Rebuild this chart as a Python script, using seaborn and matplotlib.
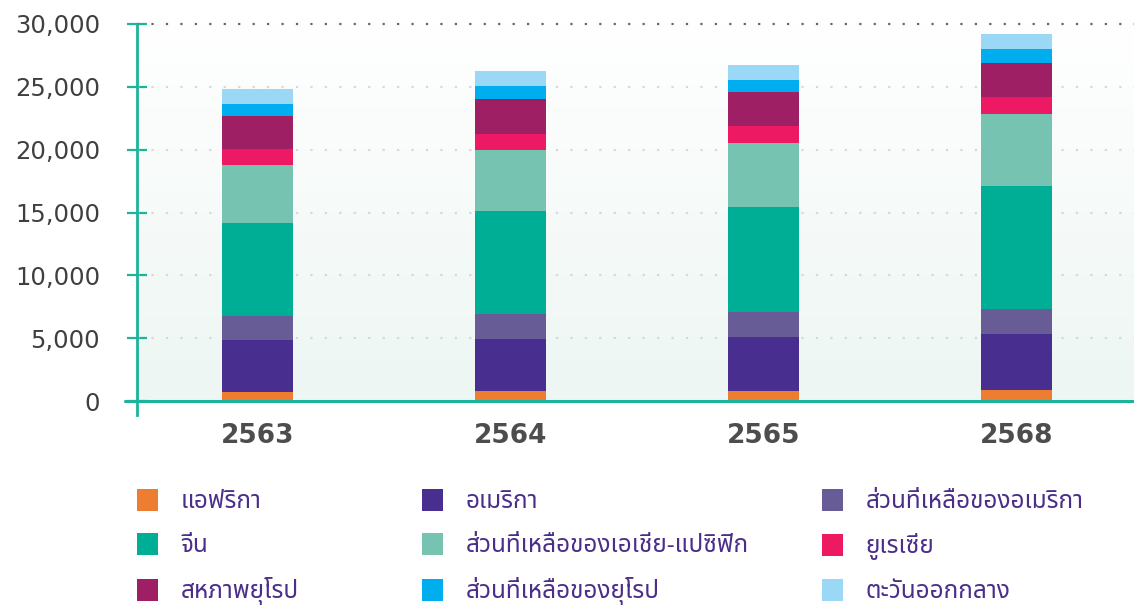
import numpy as np
import matplotlib.pyplot as plt
import seaborn as sns
from matplotlib import font_manager
from matplotlib.ft2font import FT2Font
from matplotlib.patches import Patch
from matplotlib.colors import LinearSegmentedColormap

years = ["2563", "2564", "2565", "2568"]
regions = ["แอฟริกา", "อเมริกา", "ส่วนที่เหลือของอเมริกา",
           "จีน", "ส่วนที่เหลือของเอเชีย-แปซิฟิก", "ยูเรเซีย",
           "สหภาพยุโรป", "ส่วนที่เหลือของยุโรป", "ตะวันออกกลาง"]

africa = [720, 800, 800, 880]
america = [4140, 4140, 4300, 4450]
rest_america = [1930, 2010, 1990, 1990]
china = [7380, 8170, 8360, 9790]
rest_asia_pacific = [4620, 4850, 5090, 5730]
eurasia = [1270, 1300, 1350, 1350]
eu = [2650, 2760, 2710, 2710]
rest_europe = [930, 1030, 960, 1110]
middle_east = [1190, 1190, 1190, 1190]

colors = ["#ED7D31", "#482E8E", "#675C96", "#00AE96", "#76C3B1",
          "#ED1A63", "#9E1F63", "#00AEEF", "#9BD8F6"]

teal = "#1BB39A"


def thai_font():
    found = []
    for f in font_manager.fontManager.ttflist:
        try:
            if ord("ก") in FT2Font(f.fname).get_charmap():
                found.append(f.name)
        except Exception:
            pass
    for pref in ["Noto Sans Thai", "Noto Sans Thai UI"]:
        if pref in found:
            return pref
    found = [n for n in found if "Looped" not in n] or found
    return found[0] if found else "DejaVu Sans"


sns.set_style("white")
thai = thai_font()
plt.rcParams["font.family"] = ["DejaVu Sans"]

series = [africa, america, rest_america, china, rest_asia_pacific,
          eurasia, eu, rest_europe, middle_east]
cum = np.cumsum(np.array(series), axis=0)

fig = plt.figure(figsize=(11.34, 6.07), dpi=100)
ax = fig.add_axes([137 / 1134, 1 - 415 / 607, 1 - 137 / 1134, (415 - 24) / 607])

# stacked bars: draw cumulative totals from top layer down
for i in range(len(series) - 1, -1, -1):
    sns.barplot(x=years, y=cum[i], color=colors[i], width=0.28,
                saturation=1, linewidth=0, errorbar=None, ax=ax, zorder=3)

xlo, xhi = -0.476, 3.464

# soft background gradient, white at top to mint at the base
cmap = LinearSegmentedColormap.from_list("bg", ["#ffffff", "#edf6f3"])
grad = np.linspace(0, 1, 256).reshape(-1, 1)
ax.imshow(grad, cmap=cmap, aspect="auto", extent=[xlo, xhi, 0, 30000],
          origin="upper", zorder=0)
ax.set_xlim(xlo, xhi)
ax.set_ylim(-1114, 30000)

ticks = [0, 5000, 10000, 15000, 20000, 25000, 30000]
ax.set_yticks(ticks)
ax.set_yticklabels([f"{t:,}" for t in ticks])
for t in ticks[1:-1]:
    ax.axhline(t, color="#d8d8d8", linewidth=1.6, linestyle=(0, (1, 5.5)), zorder=1)
ax.axhline(30000, color="#666666", linewidth=1.6, linestyle=(0, (1, 5.5)),
           zorder=1, clip_on=False)

for s in ["top", "right", "bottom"]:
    ax.spines[s].set_visible(False)
ax.spines["left"].set_color(teal)
ax.spines["left"].set_linewidth(2)
ax.axhline(0, xmin=-0.012, xmax=1, color=teal, linewidth=2.2, clip_on=False, zorder=4)

ax.tick_params(axis="y", left=True, direction="inout", length=15, width=1.6,
               color=teal, pad=19, labelsize=17.5, labelcolor="#3f3f3f")
ax.tick_params(axis="x", bottom=False, length=0, pad=6, labelsize=19,
               labelcolor="#4d4d4d")
for lab in ax.get_xticklabels():
    lab.set_fontweight("bold")
ax.set_xlabel("")
ax.set_ylabel("")

# legend in three columns, reading order row by row
handles = [Patch(facecolor=c, edgecolor="none", label=r) for c, r in zip(colors, regions)]
col_x = [137 / 1134, 422 / 1134, 822 / 1134]
for k in range(3):
    leg = fig.legend(handles=handles[k::3], loc="upper left",
                     bbox_to_anchor=(col_x[k], 1 - 489 / 607), frameon=False,
                     borderpad=0, borderaxespad=0, handlelength=0.85,
                     handleheight=1.0, handletextpad=0.95, labelspacing=0.78,
                     prop={"family": [thai, "DejaVu Sans"], "size": 17.5})
    for txt in leg.get_texts():
        txt.set_color("#4B2E8A")

fig.savefig("out.png", dpi=100)
